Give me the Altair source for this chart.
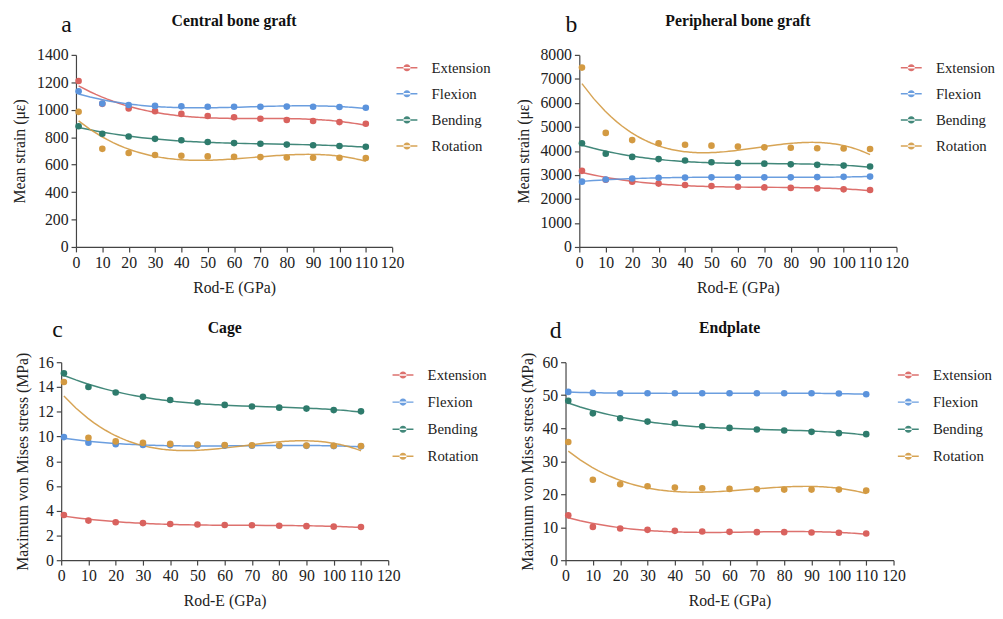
import altair as alt
import pandas as pd

rod_e = [1, 10, 20, 30, 40, 50, 60, 70, 80, 90, 100, 110]
series = ["Extension", "Flexion", "Bending", "Rotation"]
colors = ["#d9625e", "#5b93dc", "#2e7b6c", "#d39a42"]
x_ticks = [0, 10, 20, 30, 40, 50, 60, 70, 80, 90, 100, 110, 120]

# a) Central bone graft, mean strain (με)
central_extension = [1210, 1043, 1010, 990, 970, 955, 945, 935, 925, 918, 910, 898]
central_flexion = [1135, 1045, 1035, 1028, 1025, 1022, 1022, 1022, 1023, 1022, 1020, 1015]
central_bending = [880, 825, 805, 788, 778, 765, 757, 752, 746, 741, 736, 730]
central_rotation = [985, 715, 685, 670, 665, 660, 657, 655, 652, 650, 650, 648]
central_ticks = [0, 200, 400, 600, 800, 1000, 1200, 1400]

# b) Peripheral bone graft, mean strain (με)
peripheral_extension = [3170, 2800, 2720, 2640, 2580, 2540, 2510, 2480, 2460, 2440, 2400, 2370]
peripheral_flexion = [2720, 2810, 2850, 2880, 2890, 2900, 2900, 2900, 2900, 2910, 2920, 2930]
peripheral_bending = [4320, 3880, 3750, 3660, 3600, 3530, 3500, 3470, 3440, 3420, 3390, 3350]
peripheral_rotation = [7470, 4750, 4450, 4320, 4260, 4220, 4180, 4150, 4130, 4110, 4100, 4080]
peripheral_ticks = [0, 1000, 2000, 3000, 4000, 5000, 6000, 7000, 8000]

# c) Cage, maximum von Mises stress (MPa)
cage_extension = [3.65, 3.2, 3.07, 3.0, 2.93, 2.88, 2.85, 2.82, 2.78, 2.75, 2.71, 2.68]
cage_flexion = [9.95, 9.5, 9.38, 9.32, 9.3, 9.28, 9.26, 9.25, 9.24, 9.24, 9.22, 9.2]
cage_bending = [15.1, 14.0, 13.55, 13.2, 12.95, 12.75, 12.55, 12.42, 12.33, 12.25, 12.13, 12.03]
cage_rotation = [14.4, 9.9, 9.6, 9.48, 9.4, 9.35, 9.3, 9.28, 9.27, 9.26, 9.25, 9.23]
cage_ticks = [0, 2, 4, 6, 8, 10, 12, 14, 16]

# d) Endplate, maximum von Mises stress (MPa)
endplate_extension = [13.6, 10.1, 9.6, 9.2, 8.9, 8.7, 8.6, 8.5, 8.5, 8.4, 8.3, 8.1]
endplate_flexion = [51.0, 50.7, 50.6, 50.6, 50.6, 50.6, 50.6, 50.6, 50.6, 50.6, 50.5, 50.3]
endplate_bending = [48.3, 44.5, 43.0, 42.0, 41.5, 40.6, 40.1, 39.6, 39.3, 38.9, 38.5, 38.2]
endplate_rotation = [35.8, 24.4, 23.0, 22.4, 22.0, 21.8, 21.6, 21.5, 21.4, 21.4, 21.4, 21.1]
endplate_ticks = [0, 10, 20, 30, 40, 50, 60]

FONT = "Liberation Serif"
TXT = "#222"
LEGEND_SYMBOL = ("M-1,-0.07 L1,-0.07 L1,0.07 L-1,0.07 Z "
                 "M-0.34,0 A0.34,0.34 0 1,0 0.34,0 A0.34,0.34 0 1,0 -0.34,0 Z")


def make_df(ext, flex, bend, rot):
    rows = []
    for name, vals in zip(series, [ext, flex, bend, rot]):
        for e, v in zip(rod_e, vals):
            rows.append({"E": e, "value": v, "series": name})
    return pd.DataFrame(rows)


def axis(values, title_pad, offset=0):
    return alt.Axis(values=values, format="d", labelOverlap=False, labelFlush=False,
                    labelFont=FONT, labelFontSize=16, labelColor=TXT, labelPadding=3,
                    titleFont=FONT, titleFontSize=16, titleFontWeight="normal",
                    titleColor=TXT, titlePadding=title_pad, offset=offset,
                    domainColor="#444", tickColor="#444", domainWidth=1.2,
                    tickWidth=1.2, tickSize=5, grid=False)


def panel(df, title, letter, letter_dx, letter_dy, title_dy, ytitle, yticks, w, h,
          ytitle_pad, row_pad, inset=0):
    base = alt.Chart(df)
    xenc = alt.X("E:Q", title="Rod-E (GPa)",
                 scale=alt.Scale(domain=[0, 120], nice=False, range=[inset, w + inset]),
                 axis=axis(x_ticks, 9))
    yenc = alt.Y("value:Q", title=ytitle,
                 scale=alt.Scale(domain=[yticks[0], yticks[-1]], nice=False),
                 axis=axis(yticks, ytitle_pad, -inset))
    color = alt.Color(
        "series:N",
        scale=alt.Scale(domain=series, range=colors),
        legend=alt.Legend(title=None, orient="none", legendX=w + inset + 4, legendY=2,
                          symbolType=LEGEND_SYMBOL, symbolSize=450,
                          symbolStrokeWidth=0, symbolOpacity=0.9,
                          labelFont=FONT, labelFontSize=15, labelColor=TXT,
                          labelOffset=14, rowPadding=row_pad),
    )
    lines = base.transform_regression(
        "E", "value", groupby=["series"], method="poly", order=3
    ).mark_line(strokeWidth=1.5, opacity=0.9).encode(x=xenc, y=yenc, color=color)
    points = base.mark_circle(size=45, opacity=1).encode(x=xenc, y=yenc, color=color)
    lab = alt.Chart(pd.DataFrame({"t": [letter]})).mark_text(
        font=FONT, fontSize=24, align="left", baseline="alphabetic", color="#111"
    ).encode(text="t:N", x=alt.value(letter_dx + inset), y=alt.value(letter_dy))
    ttl = alt.Chart(pd.DataFrame({"t": [title]})).mark_text(
        font=FONT, fontSize=16, fontWeight="bold", align="center",
        baseline="alphabetic", color="#111"
    ).encode(text="t:N", x=alt.value(w / 2 + inset), y=alt.value(title_dy))
    return alt.layer(lines, points, lab, ttl).properties(width=w + inset, height=h)


pa = panel(make_df(central_extension, central_flexion, central_bending, central_rotation),
           "Central bone graft", "a", -15, -23, -29, "Mean strain (με)", central_ticks,
           321, 195, 9, 7.5, inset=15)
pb = panel(make_df(peripheral_extension, peripheral_flexion, peripheral_bending, peripheral_rotation),
           "Peripheral bone graft", "b", -14, -23, -29, "Mean strain (με)", peripheral_ticks,
           322, 195, 9, 7.5)
pc = panel(make_df(cage_extension, cage_flexion, cage_bending, cage_rotation),
           "Cage", "c", -9, -26, -30, "Maximum von Mises stress (MPa)", cage_ticks,
           332, 201, 7, 8.5)
pd_ = panel(make_df(endplate_extension, endplate_flexion, endplate_bending, endplate_rotation),
            "Endplate", "d", -16, -25, -30, "Maximum von Mises stress (MPa)", endplate_ticks,
            333, 201, 7, 8.5)

top = alt.hconcat(pa, pb, spacing=25).resolve_scale(color="independent")
bottom = alt.hconcat(pc, pd_, spacing=33).resolve_scale(color="independent")

chart = alt.vconcat(top, bottom, spacing=23).resolve_scale(color="independent").properties(
    padding={"left": 4, "top": 1, "right": 0, "bottom": 0}
).configure_view(stroke=None)

chart.save("out.html", embed_options={"renderer": "svg", "actions": False})
